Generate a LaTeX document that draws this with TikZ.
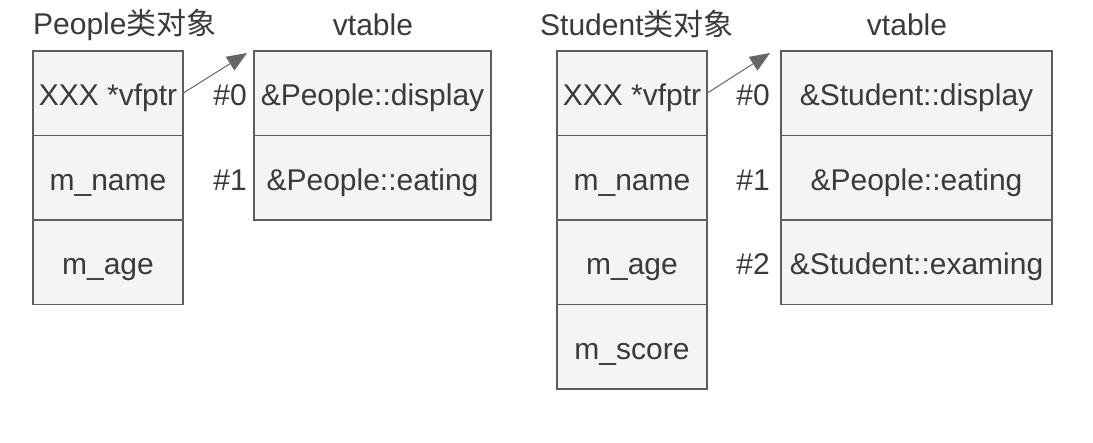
\documentclass[tikz,border=0pt]{standalone}
\usepackage{fontspec}
\setmainfont{Liberation Sans}
\newfontfamily\cjk{Noto Sans CJK SC}
\usetikzlibrary{positioning,arrows.meta}
\definecolor{cellline}{HTML}{5E5E5E}
\definecolor{cellfill}{HTML}{F4F4F4}
\definecolor{celltext}{HTML}{3A3A3A}
\definecolor{ptrline}{HTML}{666666}
\begin{document}
\begin{tikzpicture}[x=1pt,y=1pt,font=\fontsize{30}{36}\selectfont,text=celltext,
    rowtext/.style={text height=25pt,text depth=0pt},
    cell/.style={rowtext,draw=cellline,line width=1.3pt,fill=cellfill,minimum height=84.5pt,inner sep=0pt,outer sep=0pt},
    objcell/.style={cell,minimum width=150pt},
    idx/.style={rowtext,inner sep=0pt},
    ptr/.style={draw=ptrline,line width=1pt,-{Triangle[length=20pt,width=16pt]}}]
    \useasboundingbox (0,0) rectangle (1093,-443);
    \node[inner sep=0pt,anchor=base west](ptitle) at (33,-35){People{\cjk 类对象}};
    \node[objcell](p1) at (108,-93.25){XXX *vfptr};
    \node[objcell,below=0pt of p1](p2){m\_name};
    \node[objcell,below=0pt of p2](p3){m\_age};
    \node[inner sep=0pt,anchor=base](pvt) at (373,-36){vtable};
    \node[cell,minimum width=237pt](v1) at (372.5,-93.25){\&People::display};
    \node[cell,minimum width=237pt,below=0pt of v1](v2){\&People::eating};
    \node[idx,left=7pt of v1](pn0){\#0};
    \node[idx,left=7pt of v2](pn1){\#1};
    \coordinate (ptip) at (247,-53);
    \draw[ptr](p1.east)--(ptip);
    \node[inner sep=0pt,anchor=base west](stitle) at (540,-36){Student{\cjk 类对象}};
    \node[objcell](s1) at (632,-93.25){XXX *vfptr};
    \node[objcell,below=0pt of s1](s2){m\_name};
    \node[objcell,below=0pt of s2](s3){m\_age};
    \node[objcell,below=0pt of s3](s4){m\_score};
    \node[inner sep=0pt,anchor=base](svt) at (907,-36){vtable};
    \node[cell,minimum width=271pt](w1) at (916.5,-93.25){\&Student::display};
    \node[cell,minimum width=271pt,below=0pt of w1](w2){\&People::eating};
    \node[cell,minimum width=271pt,below=0pt of w2](w3){\&Student::examing};
    \node[idx,left=11pt of w1](sn0){\#0};
    \node[idx,left=11pt of w2](sn1){\#1};
    \node[idx,left=11pt of w3](sn2){\#2};
    \coordinate (stip) at (770,-53);
    \draw[ptr](s1.east)--(stip);
\end{tikzpicture}
\end{document}
